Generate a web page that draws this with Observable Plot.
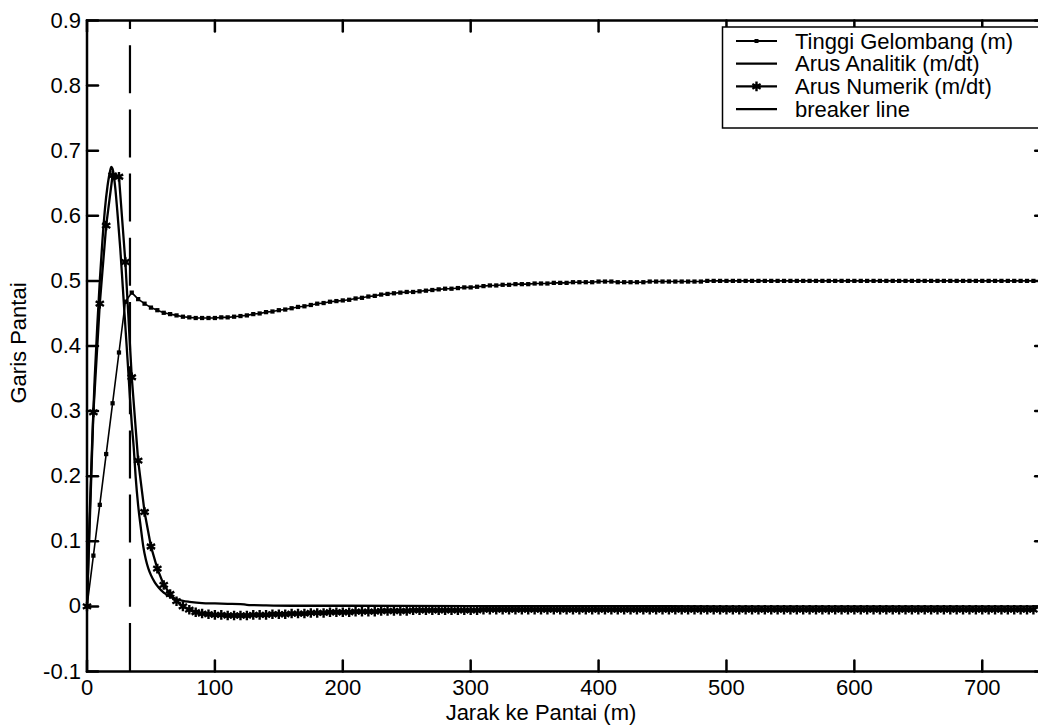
<!DOCTYPE html>
<html><head><meta charset="utf-8">
<script src="https://cdn.jsdelivr.net/npm/d3@7"></script>
<script src="https://cdn.jsdelivr.net/npm/@observablehq/plot@0.6"></script>
<style>
html,body{margin:0;padding:0;background:#fff;overflow:hidden;}
#chart{position:relative;width:1038px;height:728px;}
</style></head><body><div id="chart"></div>
<script>
// grid spacing of the sampled series (m)
const dx = 5;

// Tinggi Gelombang (m), sampled every 5 m from 0 to 740 m
const waveHeight = [
  0, 0.078, 0.156, 0.234, 0.312, 0.390, 0.468, 0.482, 0.472, 0.465,
  0.459, 0.455, 0.451, 0.449, 0.447, 0.445, 0.444, 0.443, 0.443, 0.443,
  0.443, 0.444, 0.444, 0.445, 0.446, 0.447, 0.449, 0.450, 0.452, 0.453,
  0.455, 0.456, 0.458, 0.460, 0.461, 0.463, 0.465, 0.466, 0.468, 0.469,
  0.470, 0.471, 0.473, 0.474, 0.476, 0.477, 0.479, 0.480, 0.481, 0.482,
  0.483, 0.483, 0.484, 0.485, 0.486, 0.487, 0.488, 0.488, 0.489, 0.490,
  0.490, 0.491, 0.492, 0.493, 0.493, 0.494, 0.494, 0.495, 0.495, 0.495,
  0.496, 0.496, 0.496, 0.497, 0.497, 0.497, 0.498, 0.498, 0.498, 0.498,
  0.499, 0.499, 0.499, 0.498, 0.498, 0.498, 0.498, 0.498, 0.499, 0.499,
  0.499, 0.499, 0.499, 0.499, 0.499, 0.499, 0.499, 0.500, 0.500, 0.500,
  0.500, 0.500, 0.500, 0.500, 0.500, 0.500, 0.500, 0.500, 0.500, 0.500,
  0.500, 0.500, 0.500, 0.500, 0.500, 0.500, 0.500, 0.500, 0.500, 0.500,
  0.500, 0.500, 0.500, 0.500, 0.500, 0.500, 0.500, 0.500, 0.500, 0.500,
  0.500, 0.500, 0.500, 0.500, 0.500, 0.500, 0.500, 0.500, 0.500, 0.500,
  0.500, 0.500, 0.500, 0.500, 0.500, 0.500, 0.500, 0.500, 0.500
];

// Arus Numerik (m/dt), sampled every 5 m from 0 to 740 m
const numericCurrent = [
  0, 0.298, 0.465, 0.585, 0.662, 0.660, 0.529, 0.352, 0.224, 0.145,
  0.092, 0.058, 0.033, 0.019, 0.008, 0.000, -0.005, -0.009, -0.011, -0.012,
  -0.013, -0.013, -0.014, -0.014, -0.014, -0.014, -0.013, -0.013, -0.013, -0.012,
  -0.012, -0.012, -0.011, -0.011, -0.011, -0.010, -0.010, -0.010, -0.009, -0.009,
  -0.009, -0.009, -0.008, -0.008, -0.008, -0.008, -0.007, -0.007, -0.007, -0.007,
  -0.007, -0.006, -0.006, -0.006, -0.006, -0.006, -0.006, -0.006, -0.006, -0.006,
  -0.006, -0.006, -0.005, -0.005, -0.005, -0.005, -0.005, -0.005, -0.005, -0.005,
  -0.005, -0.005, -0.005, -0.005, -0.005, -0.005, -0.005, -0.005, -0.005, -0.005,
  -0.005, -0.005, -0.005, -0.005, -0.005, -0.005, -0.005, -0.005, -0.005, -0.005,
  -0.005, -0.005, -0.005, -0.005, -0.005, -0.005, -0.005, -0.005, -0.005, -0.005,
  -0.005, -0.005, -0.005, -0.005, -0.005, -0.005, -0.005, -0.005, -0.005, -0.005,
  -0.005, -0.005, -0.005, -0.005, -0.005, -0.005, -0.005, -0.005, -0.005, -0.005,
  -0.005, -0.005, -0.005, -0.005, -0.005, -0.005, -0.005, -0.005, -0.005, -0.005,
  -0.005, -0.005, -0.005, -0.005, -0.005, -0.005, -0.005, -0.005, -0.005, -0.005,
  -0.005, -0.005, -0.005, -0.005, -0.005, -0.005, -0.005, -0.005, -0.005
];

// Arus Analitik (m/dt): distance (m) and value
const analyticX = [0, 1, 2, 4, 6, 8, 10, 12, 14, 16, 18, 19, 20, 22, 24, 26, 28, 30, 32, 33.6,
  35, 36.5, 38, 40, 42, 44, 46, 48, 50, 53, 56, 60, 65, 70, 75, 80, 90, 100, 110, 120,
  125, 130, 140, 160, 200, 300, 400, 500, 600, 700, 745];
const analyticV = [0, 0.07, 0.135, 0.25, 0.35, 0.43, 0.5, 0.56, 0.61, 0.645, 0.668, 0.675, 0.672, 0.645, 0.6, 0.55, 0.49, 0.43, 0.37, 0.32,
  0.28, 0.245, 0.2, 0.155, 0.122, 0.092, 0.072, 0.058, 0.048, 0.037, 0.029, 0.021, 0.015, 0.011, 0.0085, 0.007, 0.005, 0.0045, 0.004, 0.0035,
  0.0025, 0.002, 0.0015, 0.001, 0.001, 0.0005, 0.0005, 0, 0, 0, 0];

// breaker line position (m)
const breakerX = [33.6];

const xTicks = [0, 100, 200, 300, 400, 500, 600, 700];
const xTickLabels = ["0", "100", "200", "300", "400", "500", "600", "700"];
const yTicks = [-0.1, 0, 0.1, 0.2, 0.3, 0.4, 0.5, 0.6, 0.7, 0.8, 0.9];
const yTickLabels = ["-0.1", "0", "0.1", "0.2", "0.3", "0.4", "0.5", "0.6", "0.7", "0.8", "0.9"];
const legendLabels = ["Tinggi Gelombang (m)", "Arus Analitik (m/dt)", "Arus Numerik (m/dt)", "breaker line"];
const xLabel = "Jarak ke Pantai (m)";
const yLabel = "Garis Pantai";

const waveData = waveHeight.map((v, i) => ({x: i * dx, v}));
const numData = numericCurrent.map((v, i) => ({x: i * dx, v}));
const anaData = analyticX.map((x, i) => ({x, v: analyticV[i]}));

const xFmt = new Map(xTicks.map((t, i) => [t, xTickLabels[i]]));
const yFmt = new Map(yTicks.map((t, i) => [t, yTickLabels[i]]));

const font = "'Liberation Sans', Arial, Helvetica, sans-serif";
const FS = 22;
const tickShape = {draw(ctx, l) { ctx.moveTo(0, 0); ctx.lineTo(0, -l); }};
const TL = 11;
const tickStyle = {length: TL, shape: tickShape, anchor: "start", stroke: "black", strokeWidth: 2.5};

const plot = Plot.plot({
  width: 1038, height: 728,
  marginLeft: 86.5, marginRight: -7.7, marginTop: 20, marginBottom: 57,
  style: {fontFamily: font, fontSize: FS + "px", background: "white", color: "black"},
  x: {domain: [0, 750]},
  y: {domain: [-0.1, 0.9]},
  marks: [
    Plot.axisX(xTicks, {anchor: "bottom", tickSize: 0, tickPadding: 8, tickFormat: d => xFmt.get(d), label: null, fontSize: FS}),
    Plot.axisY(yTicks, {anchor: "left", tickSize: 0, tickPadding: 6, tickFormat: d => yFmt.get(d), label: null, fontSize: FS}),
    Plot.vector(yTicks, {y: d => d, frameAnchor: "left", rotate: 90, ...tickStyle}),
    Plot.vector(yTicks, {y: d => d, frameAnchor: "right", rotate: -90, ...tickStyle}),
    Plot.vector(xTicks, {x: d => d, frameAnchor: "bottom", rotate: 0, ...tickStyle}),
    Plot.vector(xTicks, {x: d => d, frameAnchor: "top", rotate: 180, ...tickStyle}),
    Plot.line(waveData, {x: "x", y: "v", stroke: "black", strokeWidth: 1.6}),
    Plot.dot(waveData, {x: "x", y: "v", r: 2.4, symbol: "square", fill: "black", stroke: null}),
    Plot.line(anaData, {x: "x", y: "v", stroke: "black", strokeWidth: 2.3, curve: "monotone-x"}),
    Plot.line(numData, {x: "x", y: "v", stroke: "black", strokeWidth: 2.3}),
    Plot.dot(numData, {x: "x", y: "v", r: 4.5, symbol: "asterisk", stroke: "black", strokeWidth: 2.4}),
    Plot.ruleX(breakerX, {y1: -0.1, y2: 0.9, stroke: "black", strokeWidth: 2.2, strokeDasharray: "48,16.2"}),
    Plot.frame({stroke: "black", strokeWidth: 2.5})
  ]
});

const svg = d3.select(plot);
const lg = svg.append("g").attr("font-family", font).attr("font-size", FS).attr("text-anchor", "start");
lg.append("rect").attr("x", 722.5).attr("y", 27).attr("width", 330).attr("height", 101)
  .attr("fill", "white").attr("stroke", "black").attr("stroke-width", 1.5);
legendLabels.forEach((t, i) => {
  const cy = 41 + i * 22.7;
  lg.append("line").attr("x1", 736).attr("x2", 777).attr("y1", cy).attr("y2", cy)
    .attr("stroke", "black").attr("stroke-width", 2.2);
  if (i === 0) lg.append("rect").attr("x", 754.5).attr("y", cy - 2).attr("width", 4).attr("height", 4).attr("fill", "black");
  if (i === 2) lg.append("path").attr("transform", `translate(756.5,${cy})`)
    .attr("d", d3.symbol(d3.symbolAsterisk, 64)()).attr("stroke", "black").attr("stroke-width", 2.4).attr("fill", "none");
  lg.append("text").attr("x", 795).attr("y", cy).attr("dy", "0.35em").attr("text-anchor", "start").text(t);
});
svg.append("text").attr("x", 541).attr("y", 712).attr("dy", "0.35em").attr("text-anchor", "middle")
  .attr("font-family", font).attr("font-size", FS).text(xLabel);
svg.append("text").attr("transform", "translate(18,343) rotate(-90)").attr("dy", "0.35em").attr("text-anchor", "middle")
  .attr("font-family", font).attr("font-size", FS).text(yLabel);

document.getElementById("chart").appendChild(plot);
</script>
</body></html>
